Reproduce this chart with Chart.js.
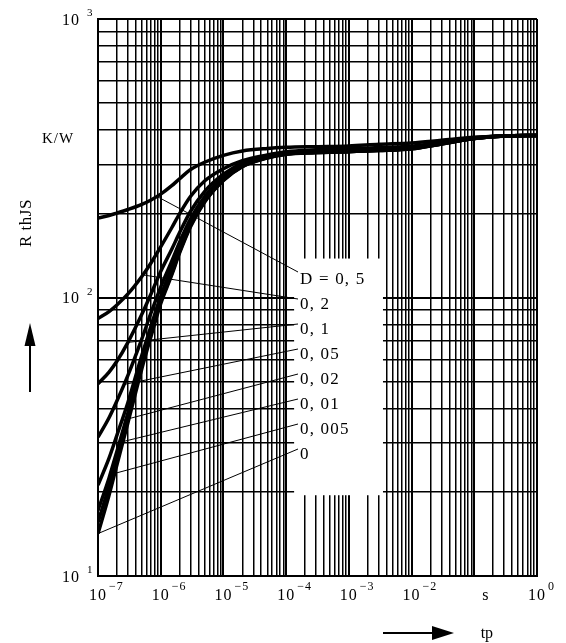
<!DOCTYPE html>
<html>
<head>
<meta charset="utf-8">
<script src="https://cdn.jsdelivr.net/npm/chart.js@4.4.1/dist/chart.umd.min.js"></script>
<style>
  body { margin: 0; background: #fff; }
  canvas { display: block; }
</style>
</head>
<body>
<canvas id="zth" width="566" height="643"></canvas>
<script>
// pulse duration tp [s]
const tp = [1e-7, 1.5e-7, 2e-7, 3e-7, 5e-7, 7e-7, 1e-6, 1.5e-6, 2e-6, 3e-6, 5e-6,
            1e-5, 2e-5, 5e-5, 1e-4, 3e-4, 1e-3, 3e-3, 1e-2, 3e-2, 1e-1, 3e-1, 1];

// R thJS [K/W] for each duty cycle D
const zthD050  = [193, 197, 201, 207, 216, 224, 235, 252, 267, 288, 306, 324, 336, 343, 346, 348, 350, 355, 359, 367, 376, 379, 382];
const zthD020  = [84, 89, 94, 103, 119, 133, 152, 178, 200, 231, 262, 290, 310, 325, 334, 339, 342, 345.5, 349.5, 361, 375, 381, 382];
const zthD010  = [49, 54, 59, 69, 87, 103, 124, 149, 171, 204, 240, 277, 304, 322, 332, 336, 338.5, 341, 346, 358.5, 373.5, 380.5, 382];
const zthD005  = [31.5, 37, 42.5, 52.5, 71, 88, 109, 135, 158, 192, 230, 270, 300, 320, 330, 334, 336.5, 339, 344, 357.5, 373, 380.5, 382];
const zthD002  = [21.2, 26.5, 32, 42, 62, 79, 101, 128, 151, 186, 225, 266, 297, 318.5, 328, 332.5, 335, 338, 343, 357, 372.5, 380, 382];
const zthD001  = [17.2, 22.5, 28, 38.5, 58.5, 75.5, 98, 124, 148, 183, 222.5, 264.5, 296, 318, 327.5, 332, 334.5, 337.5, 342.5, 356, 372, 380, 382];
const zthD0005 = [15.6, 21, 26.5, 37, 57, 74, 96.5, 122, 146, 181.5, 221, 264, 295.5, 317.5, 327, 331.5, 334, 337, 342, 356, 372, 380, 382];
const zthD0    = [14.2, 19.5, 25, 35.5, 55.5, 72.5, 95, 120.5, 144.5, 180, 220, 263, 295, 317, 327, 331, 334, 337, 342, 356, 372, 380, 382];

const dutyLabels = ['D = 0, 5', '0, 2', '0, 1', '0, 05', '0, 02', '0, 01', '0, 005', '0'];
const curves = [zthD050, zthD020, zthD010, zthD005, zthD002, zthD001, zthD0005, zthD0];
// tp where each label's leader line touches its curve
const leaderTp = [8.7e-7, 5.2e-7, 3e-7, 2.6e-7, 2.4e-7, 2.2e-7, 1.7e-7, 1e-7];

const xExponents = ['-7', '-6', '-5', '-4', '-3', '-2', '0'];
const yExponents = ['1', '2', '3'];

const FONT = '"Liberation Serif", "DejaVu Serif", serif';

function text(ctx, str, x, y, size, align, spacing) {
  ctx.font = size + 'px ' + FONT;
  ctx.letterSpacing = (spacing || 0) + 'px';
  ctx.textAlign = align || 'left';
  ctx.fillText(str, x, y);
}

// log interpolation on a curve
function valueAt(data, t) {
  const lt = Math.log10(t);
  for (let i = 0; i < tp.length - 1; i++) {
    const a = Math.log10(tp[i]), b = Math.log10(tp[i + 1]);
    if (lt >= a && lt <= b) {
      const f = (lt - a) / (b - a);
      return Math.pow(10, Math.log10(data[i]) + f * (Math.log10(data[i + 1]) - Math.log10(data[i])));
    }
  }
  return data[0];
}

function logTicks(min, max) {
  const out = [];
  for (let e = Math.round(Math.log10(min)); e < Math.round(Math.log10(max)); e++) {
    for (let s = 1; s < 10; s++) out.push({ value: s * Math.pow(10, e) });
  }
  out.push({ value: max });
  return out;
}

// blank space behind the D labels
const labelBox = {
  id: 'labelBox',
  beforeDatasetsDraw(chart) {
    const x = chart.scales.x, y = chart.scales.y;
    const ctx = chart.ctx;
    const l = x.getPixelForValue(1.34e-4), r = x.getPixelForValue(3.5e-3);
    const t = y.getPixelForValue(138), b = y.getPixelForValue(19.5);
    ctx.save();
    ctx.fillStyle = '#fff';
    ctx.fillRect(l, t, r - l, b - t);
    ctx.restore();
  }
};

const decorations = {
  id: 'decorations',
  afterDraw(chart) {
    const ctx = chart.ctx;
    const xs = chart.scales.x, ys = chart.scales.y;
    const area = chart.chartArea;
    ctx.save();
    ctx.fillStyle = '#000';
    ctx.strokeStyle = '#000';
    ctx.textBaseline = 'alphabetic';

    // y tick labels
    yExponents.forEach(e => {
      const py = ys.getPixelForValue(Math.pow(10, +e));
      text(ctx, '10', area.left - 18, py + 5.5, 16, 'right', 1);
      text(ctx, e, area.left - 11, py - 3, 11, 'left');
    });

    // x tick labels
    xExponents.forEach(e => {
      const px = xs.getPixelForValue(Math.pow(10, +e));
      text(ctx, '10', px, area.bottom + 24, 16, 'center', 1);
      text(ctx, e.replace('-', '\u2212'), px + 11, area.bottom + 14, 12, 'left', 1);
    });
    text(ctx, 's', xs.getPixelForValue(0.1) + 11, area.bottom + 24, 16, 'center');

    // axis titles
    text(ctx, 'K/W', 42, 143, 15, 'left', 1);
    ctx.save();
    ctx.translate(31, 247);
    ctx.rotate(-Math.PI / 2);
    text(ctx, 'R thJS', 0, 0, 17, 'left', 0.5);
    ctx.restore();
    text(ctx, 't', 483, 638, 16, 'center');
    text(ctx, 'p', 489, 638, 16, 'center');

    // arrows
    ctx.lineWidth = 2;
    ctx.beginPath();
    ctx.moveTo(30, 392); ctx.lineTo(30, 344);
    ctx.moveTo(383, 633); ctx.lineTo(434, 633);
    ctx.stroke();
    ctx.beginPath();
    ctx.moveTo(30, 323); ctx.lineTo(24.5, 346); ctx.lineTo(35.5, 346); ctx.closePath();
    ctx.fill();
    ctx.beginPath();
    ctx.moveTo(454, 633); ctx.lineTo(432, 626); ctx.lineTo(432, 640); ctx.closePath();
    ctx.fill();

    // D labels with leader lines
    const lx = area.left + 202;
    dutyLabels.forEach((txt, i) => {
      const ly = area.top + 259 + 25 * i;
      const t = leaderTp[i];
      const sx = xs.getPixelForValue(t);
      const sy = ys.getPixelForValue(valueAt(curves[i], t));
      ctx.lineWidth = 1;
      ctx.beginPath();
      ctx.moveTo(sx, sy);
      ctx.lineTo(lx - 2, ly - (i === 0 ? 6 : 4));
      ctx.stroke();
      text(ctx, txt, lx, ly + 6, 17, 'left', 1.2);
    });
    ctx.restore();
  }
};

const isDecade = v => Math.abs(Math.log10(v) - Math.round(Math.log10(v))) < 1e-6;

const ctx = document.getElementById('zth').getContext('2d');
const chart = new Chart(ctx, {
  type: 'line',
  data: {
    datasets: curves.map((c, i) => ({
      label: dutyLabels[i],
      data: tp.map((t, j) => ({ x: t, y: c[j] })),
      borderColor: '#000',
      borderWidth: 3.5,
      pointRadius: 0,
      fill: false,
      cubicInterpolationMode: 'monotone'
    }))
  },
  options: {
    responsive: false,
    animation: false,
    events: [],
    layout: { padding: { left: 98, top: 19, right: 29, bottom: 67 } },
    plugins: { legend: { display: false }, tooltip: { enabled: false } },
    scales: {
      x: {
        type: 'logarithmic',
        min: 1e-7,
        max: 1,
        afterBuildTicks: s => { s.ticks = logTicks(1e-7, 1); },
        ticks: { display: false, autoSkip: false },
        grid: {
          color: '#000',
          drawTicks: false,
          lineWidth: c => (c.tick && isDecade(c.tick.value) ? 2 : 1.5)
        },
        border: { display: true, color: '#000', width: 2 }
      },
      y: {
        type: 'logarithmic',
        min: 10,
        max: 1000,
        afterBuildTicks: s => { s.ticks = logTicks(10, 1000); },
        ticks: { display: false, autoSkip: false },
        grid: {
          color: '#000',
          drawTicks: false,
          lineWidth: c => (c.tick && isDecade(c.tick.value) ? 2 : 1.5)
        },
        border: { display: true, color: '#000', width: 2 }
      }
    }
  },
  plugins: [labelBox, decorations]
});
</script>
</body>
</html>
